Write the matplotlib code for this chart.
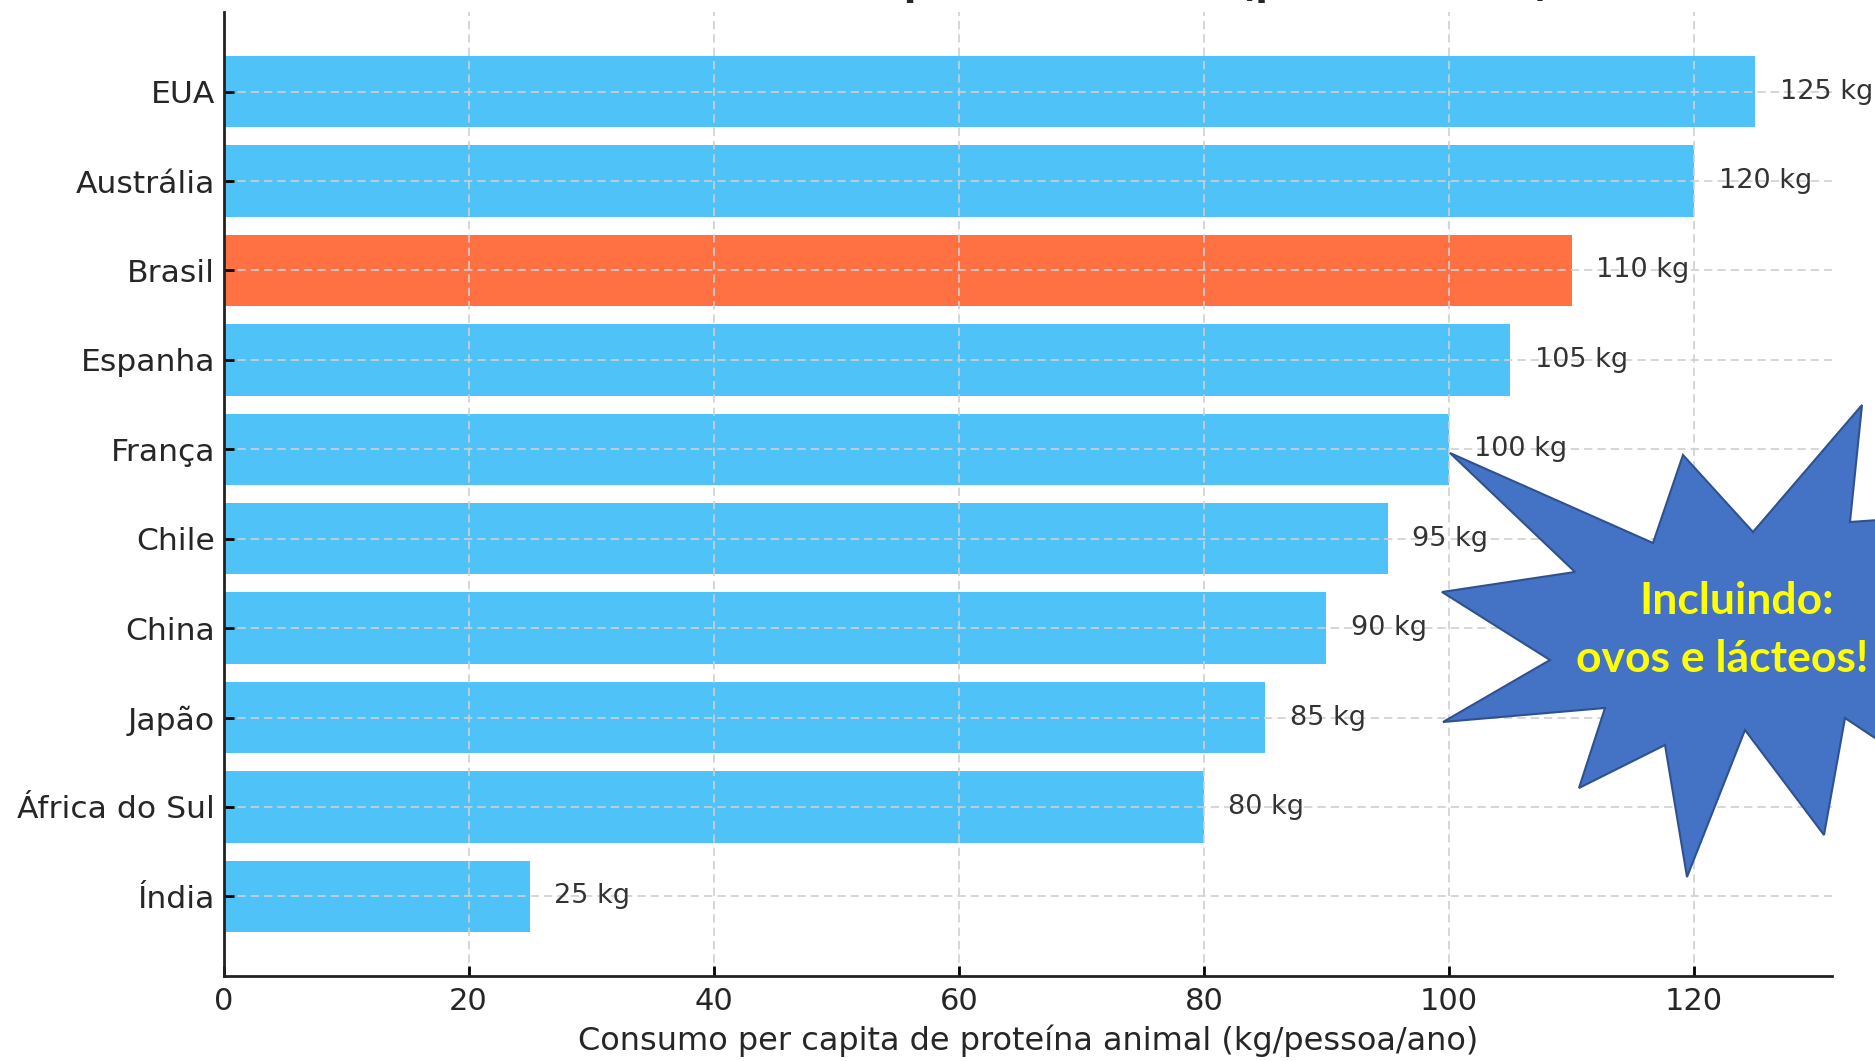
import matplotlib.pyplot as plt
from matplotlib.patches import Polygon

paises = ['EUA', 'Austrália', 'Brasil', 'Espanha', 'França', 'Chile',
          'China', 'Japão', 'África do Sul', 'Índia']
consumo = [125, 120, 110, 105, 100, 95, 90, 85, 80, 25]
destaque = 'Brasil'

titulo = 'Consumo médio de proteína animal (por habitante)'
xlabel = 'Consumo per capita de proteína animal (kg/pessoa/ano)'
nota = ['Incluindo:', 'ovos e lácteos!']

W, H = 1875, 1061
fig = plt.figure(figsize=(W / 100, H / 100), dpi=100)
ax = fig.add_axes([223.5 / W, 1 - 976 / H, (1832 - 223.5) / W, (976 - 12) / H])

cores = ['#FF7043' if p == destaque else '#4FC3F7' for p in paises]
ax.barh(paises, consumo, color=cores, height=0.8)
ax.invert_yaxis()

for p, v in zip(paises, consumo):
    ax.text(v + 2, p, f'{v} kg', va='center', ha='left',
            fontsize=19.5, color='#333333')

ax.grid(True, color='#d0d0d0', linestyle=(0, (5, 3)), linewidth=1.2)
for s in ['top', 'right']:
    ax.spines[s].set_visible(False)
for s in ['left', 'bottom']:
    ax.spines[s].set_linewidth(2)
    ax.spines[s].set_color('#222222')

ax.tick_params(axis='y', labelsize=22.6, direction='in', length=7, width=2,
               pad=6, labelcolor='#262626')
ax.tick_params(axis='x', labelsize=22, direction='in', length=7, width=2,
               pad=8, labelcolor='#262626')
ax.set_xticks([0, 20, 40, 60, 80, 100, 120])
ax.set_xlabel(xlabel, fontsize=23, color='#262626', labelpad=6)

# titulo cortado no topo
fig.text((223.5 + 1832) / 2 / W, 1 + 4 / H, titulo, ha='center', va='baseline',
         fontsize=26, fontweight='bold', color='#262626')

# estrela
pts = [(1450, 453), (1653, 543), (1683, 455), (1753, 532), (1862, 405),
       (1850, 522), (1950, 515), (1950, 745), (1875, 738), (1845, 718),
       (1824, 835), (1745, 730), (1687, 877), (1665, 745), (1579, 788),
       (1605, 708), (1443, 722), (1550, 660), (1442, 592), (1575, 572)]
estrela = Polygon([(x / W, 1 - y / H) for x, y in pts], closed=True,
                  transform=fig.transFigure, facecolor='#4472C4',
                  edgecolor='#2F528F', linewidth=1.5, zorder=5)
fig.add_artist(estrela)
for linha, (cx, cy) in zip(nota, [(1737, 601), (1722, 659)]):
    fig.text(cx / W, 1 - cy / H, linha, ha='center', va='center',
             fontsize=32, fontweight='bold', family='Lato', color='#FFFF00',
             zorder=6)

fig.savefig('out.png', dpi=100)
